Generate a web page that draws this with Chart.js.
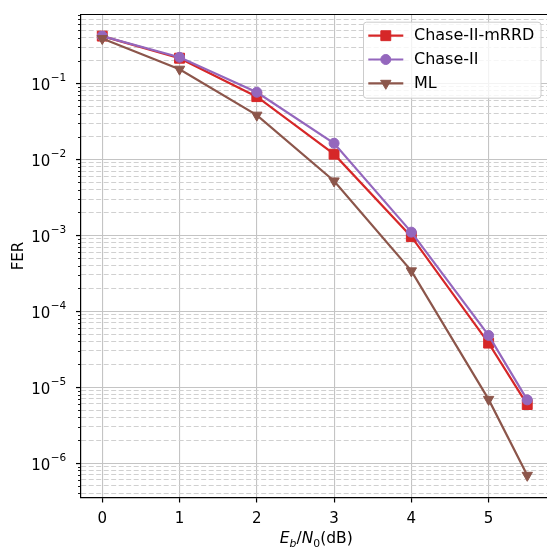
<!DOCTYPE html>
<html>
<head>
<meta charset="utf-8">
<script src="https://cdn.jsdelivr.net/npm/chart.js@4.4.1/dist/chart.umd.min.js"></script>
<style>
  html, body { margin: 0; padding: 0; background: #fff; overflow: hidden; }
  #wrap { width: 552px; height: 548px; }
</style>
</head>
<body>
<div id="wrap"><canvas id="ferChart" width="552" height="548"></canvas></div>
<script>
// Eb/N0 points (dB) and frame error rates per decoder
const snr = [0, 1, 2, 3, 4, 5, 5.5];
const ferChaseMrrd = [0.42, 0.215, 0.067, 0.0117, 9.6e-4, 3.8e-5, 5.9e-6];
const ferChase = [0.42, 0.221, 0.0766, 0.0163, 1.1e-3, 4.8e-5, 6.8e-6];
const ferMl = [0.39, 0.154, 0.0382, 0.0052, 3.4e-4, 6.9e-6, 6.9e-7];
const seriesNames = ["Chase-II-mRRD", "Chase-II", "ML"];

const xTicks = [0, 1, 2, 3, 4, 5];
const yTickValues = [1e-6, 1e-5, 1e-4, 1e-3, 1e-2, 1e-1];
const yTickExponents = ["−6", "−5", "−4", "−3", "−2", "−1"];

const X_MIN = -0.275, X_MAX = 5.775;
const Y_MIN = 3.52e-7, Y_MAX = 0.809;

const FONT = "'DejaVu Sans', sans-serif";
const RED = "#d62728", PURPLE = "#9467bd", BROWN = "#8c564b";

// minor ticks: 2..9 times each decade inside the axis range
const yMinor = [];
for (let e = -7; e <= 0; e++) {
  for (let m = 2; m <= 9; m++) {
    const v = m * Math.pow(10, e);
    if (v > Y_MIN && v < Y_MAX) yMinor.push(v);
  }
}
const yAllTicks = yTickValues.map(v => ({ value: v, major: true }))
  .concat(yMinor.map(v => ({ value: v, major: false })))
  .sort((a, b) => a.value - b.value);

function series(label, values, colour, style, radius, rotation, order) {
  return {
    label: label,
    data: snr.map((x, i) => ({ x: x, y: values[i] })),
    borderColor: colour,
    backgroundColor: colour,
    borderWidth: 2.2,
    pointStyle: style,
    pointRadius: radius,
    pointHoverRadius: radius,
    pointRotation: rotation,
    pointBorderWidth: 1,
    pointBackgroundColor: colour,
    pointBorderColor: colour,
    tension: 0,
    order: order
  };
}

const datasets = [
  series(seriesNames[0], ferChaseMrrd, RED, "rect", 7, 0, 3),
  series(seriesNames[1], ferChase, PURPLE, "circle", 5, 0, 2),
  series(seriesNames[2], ferMl, BROWN, "triangle", 6, 180, 1)
];

// top spine, short minor ticks, 10^n labels and axis titles
const frameExtras = {
  id: "frameExtras",
  afterDraw(chart) {
    const ctx = chart.ctx;
    const a = chart.chartArea;
    const y = chart.scales.y;
    ctx.save();
    ctx.strokeStyle = "#000";
    ctx.lineWidth = 1.2;
    ctx.beginPath();
    ctx.moveTo(a.left - 0.6, a.top);
    ctx.lineTo(a.right + 2, a.top);
    ctx.stroke();

    ctx.lineWidth = 0.9;
    yMinor.forEach(v => {
      const py = Math.round(y.getPixelForValue(v)) + 0.5;
      ctx.beginPath();
      ctx.moveTo(a.left - 3, py);
      ctx.lineTo(a.left, py);
      ctx.stroke();
    });

    // decade labels with raised exponent
    ctx.fillStyle = "#000";
    ctx.textBaseline = "alphabetic";
    ctx.textAlign = "left";
    yTickValues.forEach((v, i) => {
      const py = y.getPixelForValue(v);
      const x0 = 31.2;
      ctx.font = "15px " + FONT;
      ctx.fillText("10", x0, py + 6.8);
      const w = ctx.measureText("10").width;
      ctx.font = "10.5px " + FONT;
      ctx.fillText(yTickExponents[i], x0 + w + 0.4, py - 2.5);
    });

    // y title
    ctx.font = "15px " + FONT;
    ctx.textAlign = "center";
    ctx.translate(17, (a.top + a.bottom) / 2);
    ctx.rotate(-Math.PI / 2);
    ctx.fillText("FER", 0, 6.2);
    ctx.restore();

    // x title: E_b/N_0(dB)
    const parts = [
      { t: "E", f: "italic 15.5px " + FONT, dy: 0 },
      { t: "b", f: "italic 10.8px " + FONT, dy: 3.4 },
      { t: "/", f: "15.5px " + FONT, dy: 0 },
      { t: "N", f: "italic 15.5px " + FONT, dy: 0 },
      { t: "0", f: "10.8px " + FONT, dy: 3.4 },
      { t: "(dB)", f: "15.5px " + FONT, dy: 0 }
    ];
    ctx.save();
    ctx.fillStyle = "#000";
    ctx.textBaseline = "alphabetic";
    ctx.textAlign = "left";
    let total = 0;
    parts.forEach(p => { ctx.font = p.f; p.w = ctx.measureText(p.t).width; total += p.w; });
    let cx = (a.left + a.right) / 2 + 1.5 - total / 2;
    parts.forEach(p => {
      ctx.font = p.f;
      ctx.fillText(p.t, cx, 543.3 + p.dy);
      cx += p.w;
    });
    ctx.restore();
  }
};

// legend box in the upper right corner
const legendBox = {
  id: "legendBox",
  afterDraw(chart) {
    const ctx = chart.ctx;
    const a = chart.chartArea;
    const w = 177.5, h = 76;
    const left = 363, top = a.top + 7.2;
    ctx.save();
    ctx.fillStyle = "rgba(255,255,255,0.8)";
    ctx.strokeStyle = "#cccccc";
    ctx.lineWidth = 1;
    ctx.beginPath();
    ctx.roundRect(left + 0.5, top + 0.5, w, h, 3);
    ctx.fill();
    ctx.stroke();

    chart.data.datasets.forEach((ds, i) => {
      const ry = top + 14 + i * 23.8;
      ctx.strokeStyle = ds.borderColor;
      ctx.lineWidth = ds.borderWidth;
      ctx.beginPath();
      ctx.moveTo(left + 5.3, ry);
      ctx.lineTo(left + 40.3, ry);
      ctx.stroke();
      ctx.fillStyle = ds.pointBackgroundColor;
      ctx.strokeStyle = ds.pointBorderColor;
      ctx.lineWidth = ds.pointBorderWidth;
      Chart.helpers.drawPoint(ctx, {
        pointStyle: ds.pointStyle,
        radius: ds.pointRadius,
        rotation: ds.pointRotation,
        borderWidth: ds.pointBorderWidth
      }, left + 22.8, ry);
      ctx.fillStyle = "#000";
      ctx.font = "16px " + FONT;
      ctx.textAlign = "left";
      ctx.textBaseline = "middle";
      ctx.fillText(ds.label, left + 51, ry + 0.5);
    });
    ctx.restore();
  }
};

new Chart(document.getElementById("ferChart"), {
  type: "line",
  data: { datasets: datasets },
  options: {
    responsive: false,
    animation: false,
    events: [],
    layout: { autoPadding: false, padding: { top: 14.5, right: 3.5, left: 0, bottom: 0 } },
    plugins: { legend: { display: false }, tooltip: { enabled: false } },
    scales: {
      x: {
        type: "linear",
        min: X_MIN,
        max: X_MAX,
        afterBuildTicks: s => { s.ticks = xTicks.map(v => ({ value: v })); },
        afterFit: s => { s.height = 50.5; s.paddingLeft = 0; s.paddingRight = 0; },
        ticks: {
          autoSkip: false,
          maxRotation: 0,
          color: "#000",
          font: { family: FONT, size: 15 },
          padding: 7.5,
          callback: v => String(v)
        },
        grid: { color: "#c4c4c4", lineWidth: 1.1, tickColor: "#000", tickLength: 5, tickWidth: 1.2 },
        border: { color: "#000", width: 1.2 }
      },
      y: {
        type: "logarithmic",
        min: Y_MIN,
        max: Y_MAX,
        afterBuildTicks: s => { s.ticks = yAllTicks.map(t => ({ value: t.value, major: t.major })); },
        afterFit: s => { s.width = 81; s.paddingTop = 0; s.paddingBottom = 0; },
        ticks: { display: false, autoSkip: false },
        grid: {
          color: c => (c.tick && c.tick.major ? "#c4c4c4" : "#d0d0d0"),
          lineWidth: c => (c.tick && c.tick.major ? 1.1 : 1),
          tickColor: c => (c.tick && c.tick.major ? "#000" : "rgba(0,0,0,0)"),
          tickLength: 5,
          tickWidth: 1.2
        },
        border: {
          color: "#000",
          width: 1.2,
          dash: c => (c.tick && !c.tick.major ? [5, 2.5] : [])
        }
      }
    }
  },
  plugins: [frameExtras, legendBox]
});
</script>
</body>
</html>
